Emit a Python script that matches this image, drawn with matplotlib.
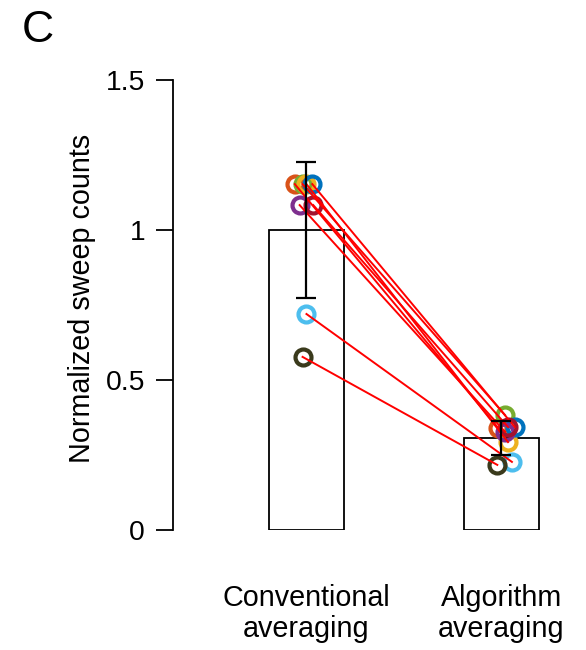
import numpy as np
import matplotlib.pyplot as plt

plt.rcParams['font.family'] = ['Liberation Sans', 'DejaVu Sans']

# group means / spread
groups = ['Conventional\naveraging', 'Algorithm\naveraging']
means = [1.0, 0.307]
sd = [0.227, 0.057]

# per-recording values (same colour = same recording)
colors = ['#D95319', '#77AC30', '#EDB120', '#0072BD',
          '#7E2F8E', '#A2142F', '#4DBEEE', '#3A3A1C']
conv = [1.153, 1.153, 1.153, 1.153, 1.083, 1.083, 0.720, 0.577]
algo = [0.340, 0.383, 0.293, 0.343, 0.327, 0.343, 0.227, 0.217]
# small horizontal jitter so rings do not hide each other
jit_conv = [-0.06, -0.02, 0.0, 0.03, -0.035, 0.035, 0.0, -0.02]
jit_algo = [-0.015, 0.02, 0.035, 0.07, 0.02, 0.035, 0.055, -0.02]

fig = plt.figure(figsize=(5.86, 6.5), dpi=100)
ax = fig.add_axes([0.295, 1 - 530 / 650, 0.66, 450 / 650])

xpos = np.array([1, 2])
ax.bar(xpos, means, width=0.386, color='white', edgecolor='black',
       linewidth=1.3, zorder=1)

for i in range(len(conv)):
    x1 = xpos[0] + jit_conv[i]
    x2 = xpos[1] + jit_algo[i]
    ax.plot([x1], [conv[i]], 'o', ms=11.5, mfc='none', mec=colors[i],
            mew=3, zorder=2, clip_on=False)
    ax.plot([x2], [algo[i]], 'o', ms=11.5, mfc='none', mec=colors[i],
            mew=3, zorder=2, clip_on=False)
for i in range(len(conv)):
    ax.plot([xpos[0] + jit_conv[i], xpos[1] + jit_algo[i]], [conv[i], algo[i]],
            '-', color='red', lw=1.4, zorder=3)

ax.errorbar(xpos, means, yerr=sd, fmt='none', ecolor='black', elinewidth=1.6,
            capsize=7, capthick=1.6, zorder=4)

ax.set_xlim(0.314, 2.3)
ax.set_ylim(0, 1.5)
ax.set_yticks([0, 0.5, 1, 1.5])
ax.set_yticklabels(['0', '0.5', '1', '1.5'])
ax.set_xticks(xpos)
ax.set_xticklabels(groups, fontsize=20.7, linespacing=1.12)
ax.tick_params(axis='x', length=0, pad=39)
ax.tick_params(axis='y', labelsize=20.3, length=12, width=1.3, direction='out', pad=8)
for s in ['top', 'right', 'bottom']:
    ax.spines[s].set_visible(False)
ax.spines['left'].set_linewidth(1.3)
ax.set_ylabel('Normalized sweep counts', fontsize=20.7)
ax.yaxis.set_label_coords(-0.198, 0.515)

fig.text(0.037, 0.985, 'C', fontsize=32, va='top', ha='left')

fig.savefig('out.png', dpi=100)
